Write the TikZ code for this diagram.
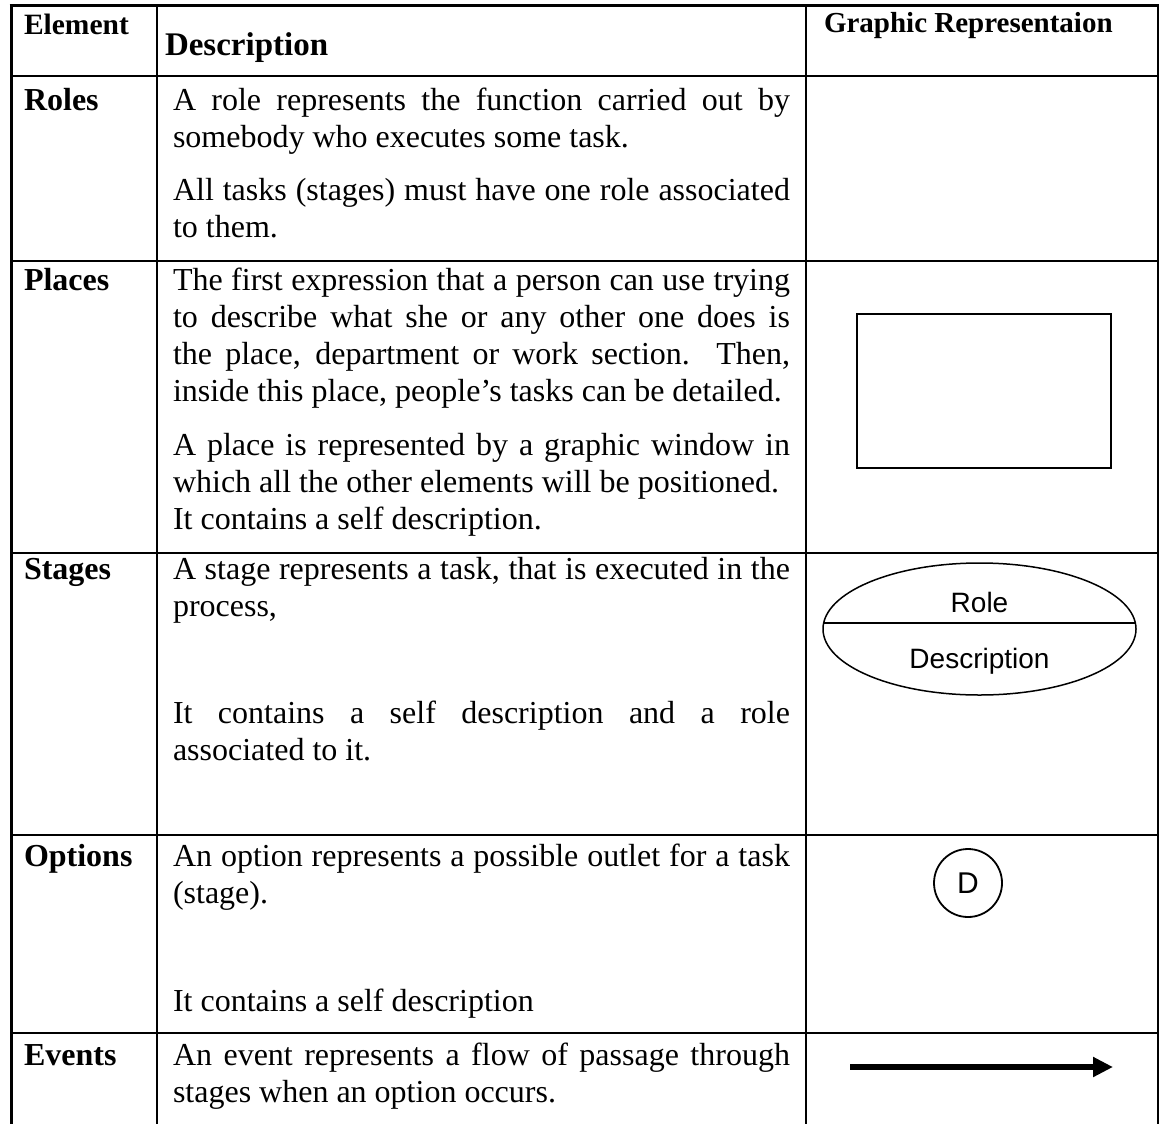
\documentclass[tikz,border=0pt]{standalone}
\usepackage{fontspec}
\setmainfont{Liberation Serif}
\newfontfamily\gsans{Liberation Sans}
\usetikzlibrary{arrows.meta,shapes.geometric}
\begin{document}
\begin{tikzpicture}[x=1pt,y=-1pt,
  body/.style={anchor=base west,inner sep=0pt,outer sep=0pt,text width=617pt,align=justify,
    font=\fontsize{32}{37}\selectfont,
    execute at begin node={\tolerance=9999 \hbadness=10000 \hyphenpenalty=10000 \exhyphenpenalty=10000 }},
  rowhead/.style={anchor=base west,inner sep=0pt,outer sep=0pt,font=\fontsize{32}{37}\selectfont\bfseries},
  grid/.style={line width=2pt},
  frame/.style={line width=3pt},
  graph/.style={draw,line width=1.8pt,inner sep=0pt},
  gtext/.style={anchor=base,inner sep=0pt,font=\gsans\fontsize{28}{32}\selectfont}]
\fill[white] (0,0) rectangle (1161,1124);
\useasboundingbox (0,0) rectangle (1161,1124);

% table rules
\draw[frame] (9.5,6) -- (1159,6);
\draw[frame] (11,4.5) -- (11,1124);
\draw[grid] (157,6) -- (157,1124);
\draw[grid] (806,6) -- (806,1124);
\draw[grid] (1158,6) -- (1158,1124);
\draw[grid] (11,76) -- (1158,76);
\draw[grid] (11,261) -- (1158,261);
\draw[grid] (11,553) -- (1158,553);
\draw[grid] (11,835) -- (1158,835);
\draw[grid] (11,1033) -- (1158,1033);

% header
\node[rowhead,font=\fontsize{29.5}{34}\selectfont\bfseries] (hE) at (24,35) {Element};
\node[rowhead,font=\fontsize{33}{38}\selectfont\bfseries] (hD) at (165,56) {Description};
\node[rowhead,font=\fontsize{29}{34}\selectfont\bfseries] (hG) at (824,33) {Graphic Representaion};

% Roles
\node[rowhead] (rR) at (24,110) {Roles};
\node[body] (rR1) at (173,110) {A role represents the function carried out by\linebreak somebody who executes some task.};
\node[body] (rR2) at (173,200) {All tasks (stages) must have one role associated\linebreak to them.};

% Places
\node[rowhead] (pP) at (24,290) {Places};
\node[body] (pP1) at (173,290) {The first expression that a person can use trying\linebreak to describe what she or any other one does is\linebreak the place, department or work section. Then,\linebreak inside this place, people’s tasks can be detailed.};
\node[body] (pP2) at (173,455) {A place is represented by a graphic window in\linebreak which all the other elements will be positioned.\newline It contains a self description.};
\node[graph,minimum width=254pt,minimum height=154pt] (place) at (984,391) {};

% Stages
\node[rowhead] (sS) at (24,579) {Stages};
\node[body] (sS1) at (173,579) {A stage represents a task, that is executed in the\linebreak process,};
\node[body] (sS2) at (173,723) {It contains a self description and a role\linebreak associated to it.};
\node[graph,ellipse,line width=1.5pt,minimum width=313pt,minimum height=132pt] (stage) at (979.5,629) {};
\coordinate (dl) at (823.6,623);
\coordinate (dr) at (1135.4,623);
\draw[line width=1.5pt] (dl) -- (dr);
\node[gtext] (role) at (979.5,612) {Role};
\node[gtext] (desc) at (979.5,668) {Description};

% Options
\node[rowhead] (oO) at (24,866) {Options};
\node[body] (oO1) at (173,866) {An option represents a possible outlet for a task\linebreak (stage).};
\node[body] (oO2) at (173,1011) {It contains a self description};
\node[graph,circle,line width=1.8pt,minimum size=68pt,font=\gsans\fontsize{30}{34}\selectfont] (opt) at (968,883) {D};

% Events
\node[rowhead] (eE) at (24,1065) {Events};
\node[body] (eE1) at (173,1065) {An event represents a flow of passage through\linebreak stages when an option occurs.};
\coordinate (a1) at (850,1067);
\coordinate (a2) at (1113,1067);
\draw[line width=5.5pt,-{Triangle[length=20pt,width=19pt]}] (a1) -- (a2);
\end{tikzpicture}
\end{document}
